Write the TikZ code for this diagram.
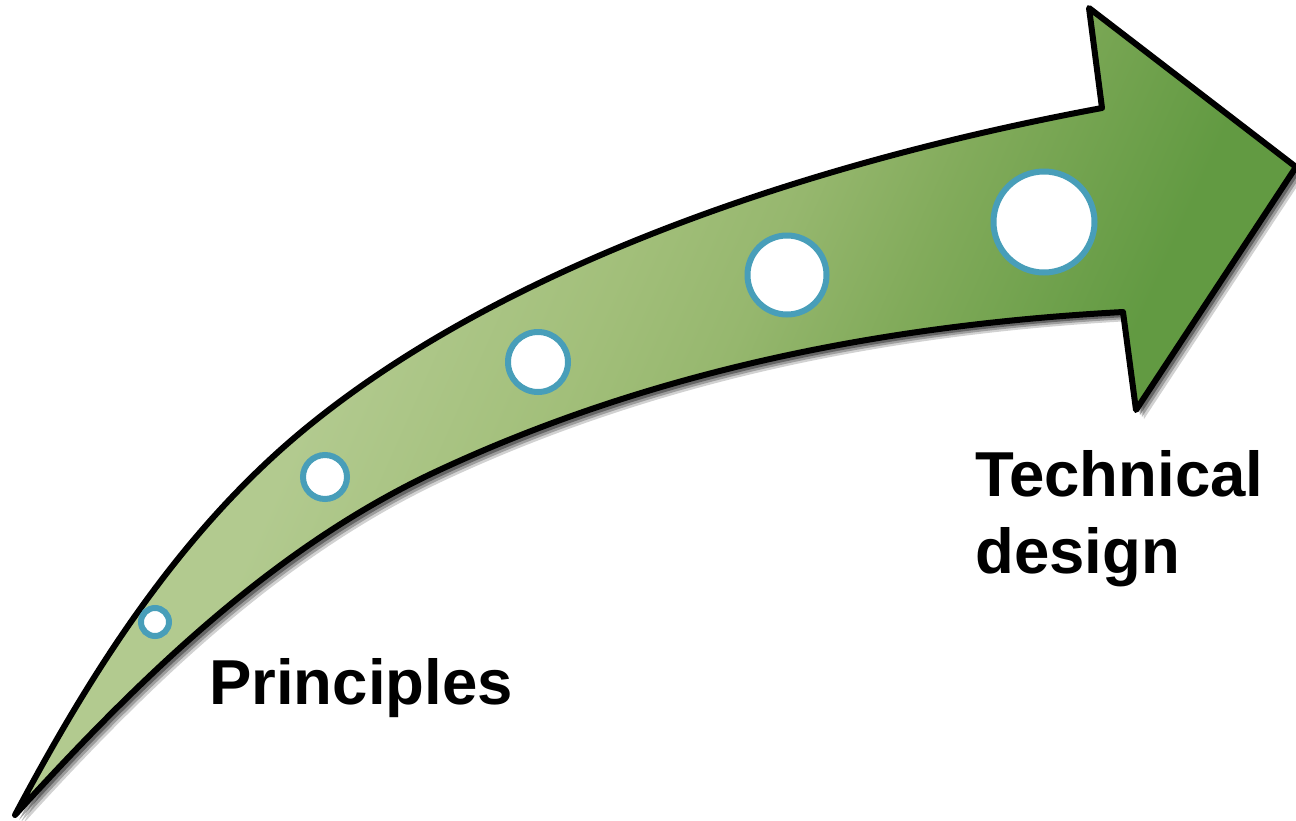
\documentclass[tikz,border=0pt]{standalone}
\usepackage{fontspec}
\setmainfont{Liberation Sans}
\usepackage{xcolor}
\usetikzlibrary{shadows}
\definecolor{verdeclaro}{RGB}{178,202,143}
\definecolor{verdesuave}{RGB}{162,191,122}
\definecolor{verdemedio}{RGB}{150,183,110}
\definecolor{verdefuerte}{RGB}{130,171,91}
\definecolor{verdeoscuro}{RGB}{98,154,66}
\definecolor{azulborde}{RGB}{72,158,185}
\pgfdeclareverticalshading{degradeverde}{100bp}{color(0bp)=(verdeoscuro); color(32bp)=(verdeoscuro);
  color(42bp)=(verdefuerte); color(48bp)=(verdemedio); color(54bp)=(verdesuave);
  color(64bp)=(verdeclaro); color(100bp)=(verdeclaro)}

\begin{document}
\begin{tikzpicture}[x=1pt, y=-1pt,
    banner/.style={draw=black, line width=6pt, line join=round,
                   shading=degradeverde, shading angle=66,
                   general shadow={shadow xshift=8pt, shadow yshift=-9pt, fill=black, opacity=0.18},
                   general shadow={shadow xshift=6pt, shadow yshift=-7pt, fill=black, opacity=0.25},
                   general shadow={shadow xshift=4pt, shadow yshift=-5pt, fill=black, opacity=0.35}},
    spot/.style={circle, draw=azulborde, fill=white, line width=6pt, inner sep=0pt},
    caption/.style={font=\bfseries\fontsize{63.5}{77}\selectfont, inner sep=0pt}
  ]
    \useasboundingbox (0,0) rectangle (1296,820);

    % curved arrow
    \path[banner] (15,815) .. controls (90,674) and (177,536) .. (300,433)
      .. controls (507,260) and (827,159) .. (1102,108)
      -- (1089,8) -- (1296,167) -- (1136,410) -- (1123,312)
      .. controls (883,325) and (650,371) .. (433,473)
      .. controls (270,550) and (136,682) .. (15,815)
      -- cycle;

    % growing steps
    \node[spot, minimum size=28pt] (punto1) at (155,622) {};
    \node[spot, minimum size=44pt] (punto2) at (325,477) {};
    \node[spot, minimum size=60pt] (punto3) at (538,362) {};
    \node[spot, minimum size=79pt] (punto4) at (787,275) {};
    \node[spot, minimum size=101pt] (punto5) at (1044,222) {};

    \node[caption, anchor=base west] (inicio) at (209,704) {Principles};
    \node[caption, anchor=north west, align=left] (final) at (975,450) {Technical\\design};
  \end{tikzpicture}
\end{document}
